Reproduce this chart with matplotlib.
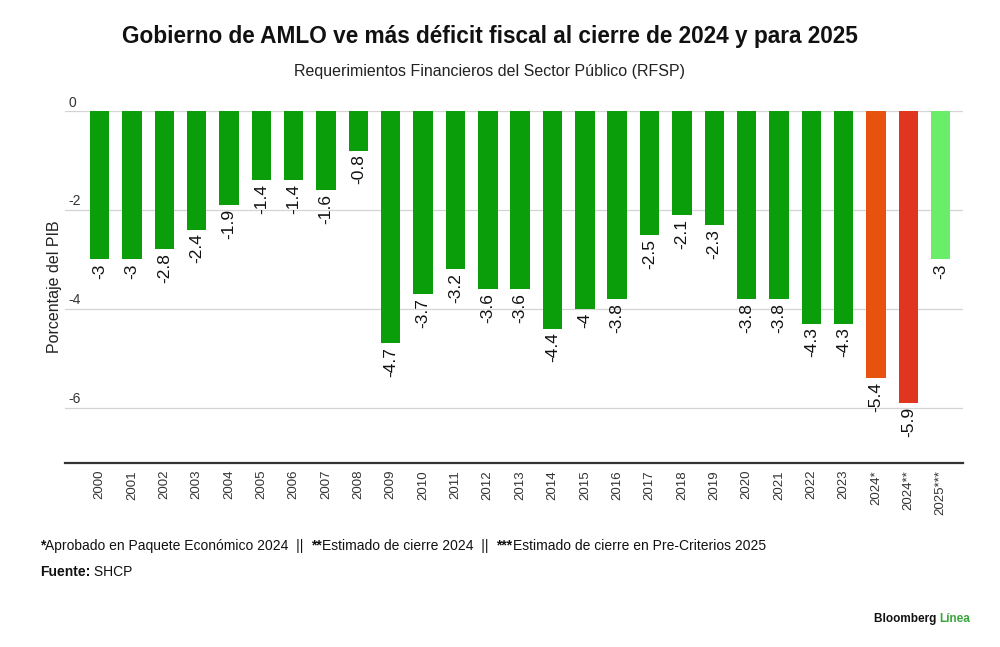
import numpy as np
import matplotlib
matplotlib.use("Agg")
import matplotlib.pyplot as plt

plt.rcParams['font.family'] = ['Liberation Sans', 'DejaVu Sans']

# data
years = ['2000', '2001', '2002', '2003', '2004', '2005', '2006', '2007', '2008',
         '2009', '2010', '2011', '2012', '2013', '2014', '2015', '2016', '2017',
         '2018', '2019', '2020', '2021', '2022', '2023', '2024*', '2024**', '2025***']
rfsp = [-3, -3, -2.8, -2.4, -1.9, -1.4, -1.4, -1.6, -0.8,
        -4.7, -3.7, -3.2, -3.6, -3.6, -4.4, -4, -3.8, -2.5,
        -2.1, -2.3, -3.8, -3.8, -4.3, -4.3, -5.4, -5.9, -3]
yticks = [0, -2, -4, -6]

green = '#0a9f0a'
colors = [green] * 24 + ['#e8520f', '#e0351f', '#6aee6a']

fig = plt.figure(figsize=(10, 6.47), dpi=100)
ax = fig.add_axes([0.065, 0.2844, 0.898, 0.5440])

x = np.arange(len(years))
ax.bar(x, rfsp, width=0.6, color=colors, zorder=2)

ax.set_xlim(-1.07, len(years) - 1 + 0.69)
ax.set_ylim(-7.12, 0)

for t in yticks:
    ax.axhline(t, color='#d4d4d4', lw=0.9, zorder=1)
    ax.text(0.004, t + 0.03, '%g' % t, transform=ax.get_yaxis_transform(),
            ha='left', va='bottom', fontsize=10, color='#333333')

for xi, v in zip(x, rfsp):
    ax.text(xi, v - 0.08, '%g' % v, rotation=90, ha='center', va='top',
            fontsize=12.5, color='#111111')

for s in ['top', 'right', 'left']:
    ax.spines[s].set_visible(False)
ax.spines['bottom'].set_color('#333333')
ax.spines['bottom'].set_linewidth(1.6)

ax.set_yticks([])
ax.set_xticks(x)
ax.set_xticklabels(years, rotation=90, fontsize=9.5, color='#333333')
ax.tick_params(axis='x', length=0, pad=5)

ax.set_ylabel('Porcentaje del PIB', fontsize=11.5, color='#222222', labelpad=2)

fig.text(0.49, 0.943, 'Gobierno de AMLO ve más déficit fiscal al cierre de 2024 y para 2025',
         ha='center', va='center', fontsize=16.3, fontweight='bold', color='#111111')
fig.text(0.49, 0.889, 'Requerimientos Financieros del Sector Público (RFSP)',
         ha='center', va='center', fontsize=11.5, color='#222222')

# footnote with bold asterisks
parts = [('*', 'bold'), ('Aprobado en Paquete Económico 2024  ||  ', 'normal'),
         ('**', 'bold'), ('Estimado de cierre 2024  ||  ', 'normal'),
         ('***', 'bold'), ('Estimado de cierre en Pre-Criterios 2025', 'normal')]
prev = fig.text(0.04, 0.150, parts[0][0], fontsize=10, fontweight=parts[0][1],
                color='#111111')
for txt, w in parts[1:]:
    prev = ax.annotate(txt, xy=(1, 0), xycoords=prev, fontsize=10, fontweight=w,
                       color='#111111', va='bottom', annotation_clip=False)

src = fig.text(0.04, 0.110, 'Fuente:', fontsize=10, fontweight='bold', color='#111111')
ax.annotate(' SHCP', xy=(1, 0), xycoords=src, fontsize=10, color='#111111',
            va='bottom', annotation_clip=False)

ln = fig.text(0.970, 0.038, 'Línea', fontsize=8.5, color='#3aa53a',
              fontweight='bold', ha='right')
ax.annotate('Bloomberg ', xy=(0, 0), xycoords=ln, fontsize=8.5, color='#111111',
            fontweight='bold', ha='right', va='bottom', annotation_clip=False)

fig.savefig('out.png', dpi=100, facecolor='white')
